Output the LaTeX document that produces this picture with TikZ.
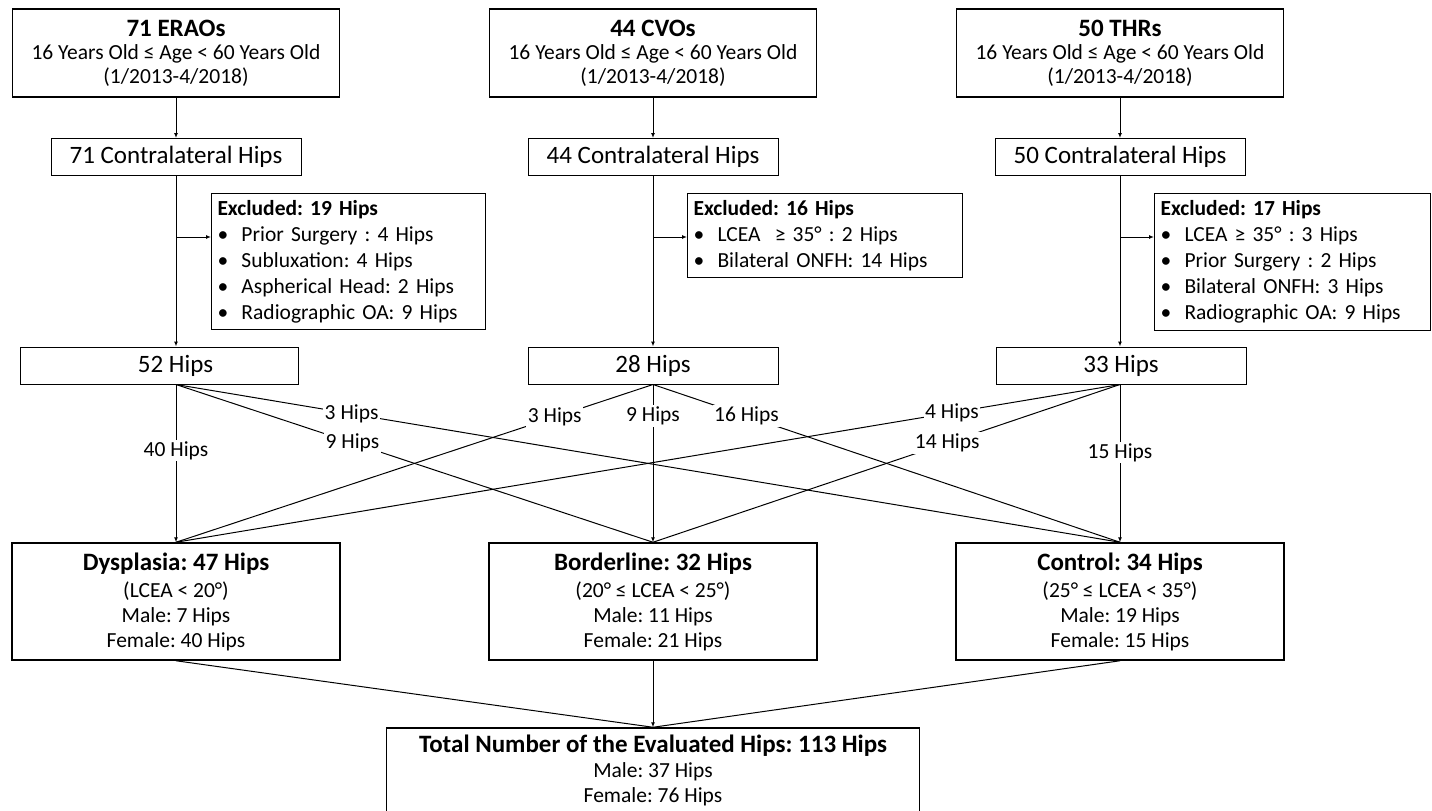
\documentclass[tikz,border=0pt]{standalone}
\usepackage{fontspec}
\setmainfont{Carlito}
\usetikzlibrary{arrows.meta}
\newcommand{\exitem}{\makebox[24pt][l]{\textbullet}}
\newcommand{\boxtitle}[1]{{\fontsize{25}{28}\selectfont\bfseries #1}}
\tikzset{%
  >={Latex[length=5pt,width=4pt]},
  every node/.style={
    font=\fontsize{21.5}{23.5}\selectfont\frenchspacing},
  headbox/.style={
    draw, line width=1.5pt, align=center, inner sep=0pt,
    minimum width=327pt, minimum height=88pt},
  hipbox/.style={
    draw, line width=1pt, inner sep=0pt,
    minimum width=250pt, minimum height=37pt,
    font=\fontsize{25}{28}\selectfont},
  exbox/.style={
    draw, line width=1pt, anchor=north west, align=left, inner sep=6pt,
    font=\fontsize{21.5}{26}\selectfont\frenchspacing},
  groupbox/.style={
    draw, line width=1.5pt, align=center, inner sep=0pt,
    minimum width=328pt, minimum height=117pt,
    font=\fontsize{21.5}{25}\selectfont\frenchspacing},
  count/.style={fill=white, inner sep=1.5pt},
  every edge/.style={draw, line width=1pt}
}
\begin{document}
\begin{tikzpicture}[x=1pt, y=-1pt, line width=1pt]
    \useasboundingbox (0,0) rectangle (1432,811);

    \node[headbox] (T1) at (176,53)
      {\boxtitle{71 ERAOs}\\16 Years Old ≤ Age < 60 Years Old\\(1/2013-4/2018)};
    \node[headbox] (T2) at (653,53)
      {\boxtitle{44 CVOs}\\16 Years Old ≤ Age < 60 Years Old\\(1/2013-4/2018)};
    \node[headbox] (T3) at (1120,53)
      {\boxtitle{50 THRs}\\16 Years Old ≤ Age < 60 Years Old\\(1/2013-4/2018)};

    \node[hipbox] (C1) at (176,157) {71 Contralateral Hips};
    \node[hipbox] (C2) at (653,157) {44 Contralateral Hips};
    \node[hipbox] (C3) at (1120,157) {50 Contralateral Hips};

    \node[exbox, text width=262pt, minimum height=136pt] (E1) at (211,193)
      {\textbf{Excluded: 19 Hips}\\
       \exitem Prior Surgery : 4 Hips\\
       \exitem Subluxation: 4 Hips\\
       \exitem Aspherical Head: 2 Hips\\
       \exitem Radiographic OA: 9 Hips};
    \node[exbox, text width=263pt, minimum height=84pt] (E2) at (687,193)
      {\textbf{Excluded: 16 Hips}\\
       \exitem LCEA\ \ ≥ 35° : 2 Hips\\
       \exitem Bilateral ONFH: 14 Hips};
    \node[exbox, text width=264pt, minimum height=137pt] (E3) at (1154,193)
      {\textbf{Excluded: 17 Hips}\\
       \exitem LCEA ≥ 35° : 3 Hips\\
       \exitem Prior Surgery : 2 Hips\\
       \exitem Bilateral ONFH: 3 Hips\\
       \exitem Radiographic OA: 9 Hips};

    \node[hipbox, minimum width=278pt] (H1) at (159,365.5) {\hspace*{33pt}52 Hips};
    \node[hipbox] (H2) at (653,365.5) {28 Hips};
    \node[hipbox] (H3) at (1121,365.5) {33 Hips};

    \node[groupbox] (G1) at (176,601.5)
      {\boxtitle{Dysplasia: 47 Hips}\\[2pt](LCEA < 20°)\\Male: 7 Hips\\Female: 40 Hips};
    \node[groupbox] (G2) at (653,601.5)
      {\boxtitle{Borderline: 32 Hips}\\[2pt](20° ≤ LCEA < 25°)\\Male: 11 Hips\\Female: 21 Hips};
    \node[groupbox] (G3) at (1120,601.5)
      {\boxtitle{Control: 34 Hips}\\[2pt](25° ≤ LCEA < 35°)\\Male: 19 Hips\\Female: 15 Hips};

    \node[groupbox, minimum width=533pt, minimum height=84pt] (N) at (653,770)
      {\boxtitle{Total Number of the Evaluated Hips: 113 Hips}\\Male: 37 Hips\\Female: 76 Hips};

    % junctions on the vertical lines
    \coordinate (J1) at (176,237);
    \coordinate (J2) at (653,237);
    \coordinate (J3) at (1120,237);
    \coordinate (O1) at (H1.south -| G1.north);
    \coordinate (O2) at (H2.south -| G2.north);
    \coordinate (O3) at (H3.south -| G3.north);

    \draw
      (T1) edge [->] (C1)
      (T2) edge [->] (C2)
      (T3) edge [->] (C3)
      (C1) edge [->] (C1 |- H1.north)
      (C2) edge [->] (C2 |- H2.north)
      (C3) edge [->] (C3 |- H3.north)
      (J1) edge [->] (J1 -| E1.west)
      (J2) edge [->] (J2 -| E2.west)
      (J3) edge [->] (J3 -| E3.west)
    ;

    \draw
      (O1) edge [->] node[count, pos=.42] {40 Hips} (G1.north)
      (O1) edge node[count, pos=.37] {9 Hips} (G2.north)
      (O1) edge node[count, pos=.186] {3 Hips} (G3.north)
      (O2) edge node[count, pos=.206] {3 Hips} (G1.north)
      (O2) edge [->] node[count, pos=.2] {9 Hips} (G2.north)
      (O2) edge node[count, pos=.2] {16 Hips} (G3.north)
      (O3) edge node[count, pos=.178] {4 Hips} (G1.north)
      (O3) edge node[count, pos=.37] {14 Hips} (G2.north)
      (O3) edge [->] node[count, pos=.43] {15 Hips} (G3.north)
    ;

    \draw
      (G1.south) edge (N.north)
      (G2) edge [->] (N)
      (G3.south) edge (N.north)
    ;

\end{tikzpicture}
\end{document}
